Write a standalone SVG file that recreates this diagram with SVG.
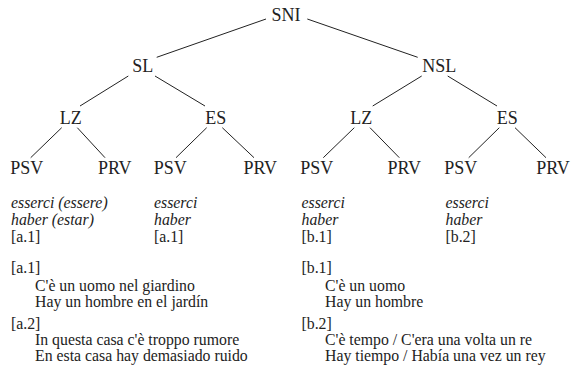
<svg xmlns="http://www.w3.org/2000/svg" width="571" height="377" viewBox="0 0 571 377">
<style>
.n{font-size:18px;fill:#222;text-anchor:middle}
.t{font-size:15.8px;fill:#222}
.i{font-style:italic}
.e{stroke:#222;stroke-width:1;fill:none}
</style>
<rect width="571" height="377" fill="#fff"/>
<g id="connectors">
<line class="e" x1="266" y1="19" x2="156.7" y2="57.3"/>
<line class="e" x1="307.3" y1="19" x2="417.7" y2="57.3"/>
<line class="e" x1="128.3" y1="76" x2="80" y2="106"/>
<line class="e" x1="155" y1="76" x2="205" y2="106"/>
<line class="e" x1="421.7" y1="76" x2="372.7" y2="106"/>
<line class="e" x1="447.7" y1="76" x2="497" y2="106"/>
<line class="e" x1="61.7" y1="127.7" x2="30.7" y2="157.7"/>
<line class="e" x1="77.3" y1="127.7" x2="105" y2="157.7"/>
<line class="e" x1="206.7" y1="127.7" x2="176" y2="157.7"/>
<line class="e" x1="222.3" y1="127.7" x2="254" y2="157.7"/>
<line class="e" x1="354.3" y1="127.7" x2="323.3" y2="157.7"/>
<line class="e" x1="370" y1="127.7" x2="399.3" y2="157.7"/>
<line class="e" x1="499.3" y1="127.7" x2="468.7" y2="157.7"/>
<line class="e" x1="515" y1="127.7" x2="546" y2="157.7"/>
</g>
<g id="SNI"><text class="n" font-family="Liberation Serif" x="286" y="21">SNI</text></g>
<g id="SL"><text class="n" font-family="Liberation Serif" x="142.8" y="72">SL</text></g>
<g id="NSL"><text class="n" font-family="Liberation Serif" x="439.2" y="72">NSL</text></g>
<g id="LZ1"><text class="n" font-family="Liberation Serif" x="70.8" y="123.5">LZ</text></g>
<g id="ES1"><text class="n" font-family="Liberation Serif" x="215.8" y="123.5">ES</text></g>
<g id="LZ2"><text class="n" font-family="Liberation Serif" x="361.3" y="123.5">LZ</text></g>
<g id="ES2"><text class="n" font-family="Liberation Serif" x="507.3" y="123.5">ES</text></g>
<g id="PSV1"><text class="n" font-family="Liberation Serif" x="26.7" y="174">PSV</text></g>
<g id="PRV1"><text class="n" font-family="Liberation Serif" x="114.7" y="174">PRV</text></g>
<g id="PSV2"><text class="n" font-family="Liberation Serif" x="170.3" y="174">PSV</text></g>
<g id="PRV2"><text class="n" font-family="Liberation Serif" x="260.3" y="174">PRV</text></g>
<g id="PSV3"><text class="n" font-family="Liberation Serif" x="316.7" y="174">PSV</text></g>
<g id="PRV3"><text class="n" font-family="Liberation Serif" x="404.3" y="174">PRV</text></g>
<g id="PSV4"><text class="n" font-family="Liberation Serif" x="460.7" y="174">PSV</text></g>
<g id="PRV4"><text class="n" font-family="Liberation Serif" x="553" y="174">PRV</text></g>
<g id="verbs">
<text class="t i" font-family="Liberation Serif" x="11" y="207.5">esserci (essere)</text>
<text class="t i" font-family="Liberation Serif" x="11" y="225">haber (estar)</text>
<text class="t" font-family="Liberation Serif" x="11" y="241.5">[a.1]</text>
<text class="t i" font-family="Liberation Serif" x="154" y="207.5">esserci</text>
<text class="t i" font-family="Liberation Serif" x="154" y="225">haber</text>
<text class="t" font-family="Liberation Serif" x="154" y="241.5">[a.1]</text>
<text class="t i" font-family="Liberation Serif" x="301.5" y="207.5">esserci</text>
<text class="t i" font-family="Liberation Serif" x="301.5" y="225">haber</text>
<text class="t" font-family="Liberation Serif" x="301.5" y="241.5">[b.1]</text>
<text class="t i" font-family="Liberation Serif" x="445.5" y="207.5">esserci</text>
<text class="t i" font-family="Liberation Serif" x="445.5" y="225">haber</text>
<text class="t" font-family="Liberation Serif" x="445.5" y="241.5">[b.2]</text>
</g>
<g id="examples">
<text class="t" font-family="Liberation Serif" x="11" y="273">[a.1]</text>
<text class="t" font-family="Liberation Serif" x="35" y="291">C'&#232; un uomo nel giardino</text>
<text class="t" font-family="Liberation Serif" x="35" y="307">Hay un hombre en el jard&#237;n</text>
<text class="t" font-family="Liberation Serif" x="11" y="328.5">[a.2]</text>
<text class="t" font-family="Liberation Serif" x="35" y="345">In questa casa c'&#232; troppo rumore</text>
<text class="t" font-family="Liberation Serif" x="35" y="360.5">En esta casa hay demasiado ruido</text>
<text class="t" font-family="Liberation Serif" x="301.5" y="273">[b.1]</text>
<text class="t" font-family="Liberation Serif" x="325" y="291">C'&#232; un uomo</text>
<text class="t" font-family="Liberation Serif" x="325" y="307">Hay un hombre</text>
<text class="t" font-family="Liberation Serif" x="301.5" y="328.5">[b.2]</text>
<text class="t" font-family="Liberation Serif" x="325" y="345">C'&#232; tempo / C'era una volta un re</text>
<text class="t" font-family="Liberation Serif" x="325" y="360.5">Hay tiempo / Hab&#237;a una vez un rey</text>
</g>
</svg>
